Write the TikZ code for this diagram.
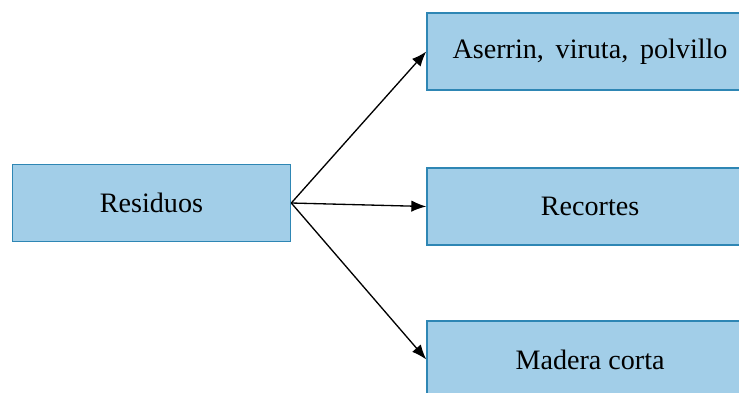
\documentclass[tikz,border=0pt]{standalone}
\usepackage{fontspec}
\setmainfont{Liberation Serif}
\usetikzlibrary{arrows.meta,positioning}
\definecolor{boxfill}{RGB}{162,206,232}
\definecolor{boxline}{RGB}{46,134,180}
\tikzstyle{block} = [draw=boxline, fill=boxfill, rectangle, line width=0.9pt,
minimum height=1.54cm, minimum width=5.56cm, font=\fontsize{16}{19}\selectfont]
\tikzstyle{wide} = [minimum width=6.52cm]
\begin{document}
\begin{tikzpicture}[auto, >={Latex[length=8.5pt,width=6.5pt]}, line width=0.75pt]
		\clip (0,0) rectangle (14.78,-7.84);
		\node(residuos)[block] at (3.03,-4.06){Residuos};
		\node(aserrin)[block, wide, right=2.7cm of residuos, yshift=3.03cm]{Aserrin,\ \,viruta,\ \,polvillo};
		\node(recortes)[block, wide, right=2.7cm of residuos, yshift=-0.07cm]{Recortes};
		\node(madera)[block, wide, right=2.7cm of residuos, yshift=-3.13cm]{Madera corta};
		
		\draw[->] (residuos.east) -- (aserrin.west);
		\draw[->] (residuos.east) -- (recortes.west);
		\draw[->] (residuos.east) -- (madera.west);
		\end{tikzpicture}
\end{document}
